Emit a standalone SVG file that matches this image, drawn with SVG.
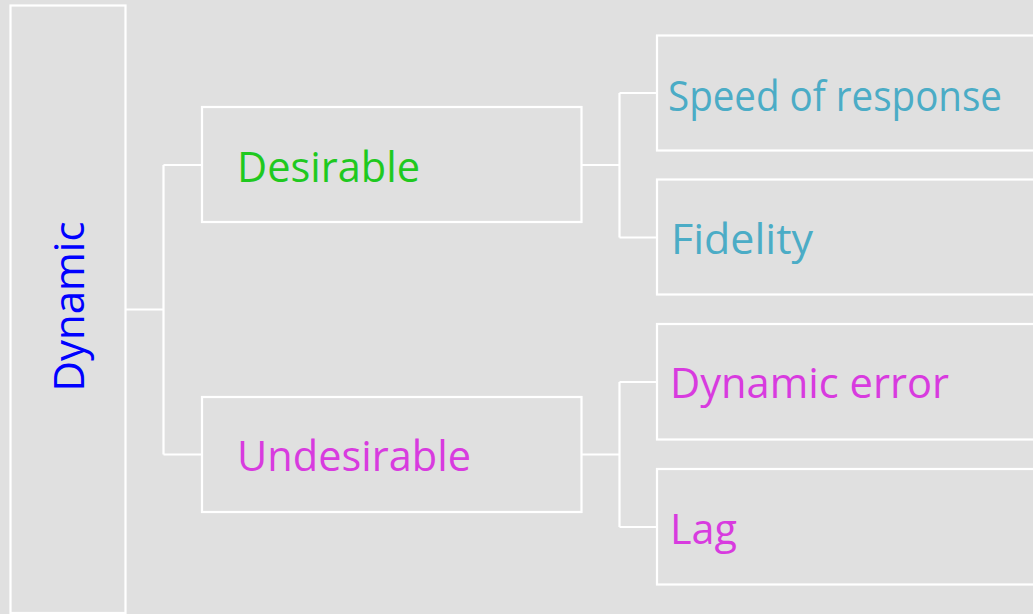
<svg xmlns="http://www.w3.org/2000/svg" width="1033" height="614" viewBox="0 0 1033 614">
  <style>
    .box { fill: #E0E0E0; stroke: #FFFFFF; stroke-width: 2.2; }
    .link { fill: none; stroke: #FFFFFF; stroke-width: 2.2; }
    text { font-family: "Open Sans", "Noto Sans", "Liberation Sans", sans-serif; font-size: 42px; }
    .root { fill: #0000FF; }
    .good { fill: #1FC91F; }
    .goodLeaf { fill: #4BACC6; }
    .bad { fill: #D83BDF; }
  </style>
  <rect width="1033" height="614" fill="#E0E0E0"/>

  <g id="connectors">
    <path class="link" d="M126 309.5 H163.5 M163.5 165 V454.5 M163.5 165 H202 M163.5 454.5 H202"/>
    <path class="link" d="M581.5 165 H619.5 M619.5 93 V237.5 M619.5 93 H657 M619.5 237.5 H657"/>
    <path class="link" d="M581.5 454.5 H619.5 M619.5 382 V527 M619.5 382 H657 M619.5 527 H657"/>
  </g>

  <g id="node-dynamic">
    <rect class="box" x="10.5" y="5.5" width="115" height="607.5"/>
    <text class="root" transform="translate(84,306.5) rotate(-90)" text-anchor="middle" textLength="170" lengthAdjust="spacingAndGlyphs">Dynamic</text>
  </g>

  <g id="node-desirable">
    <rect class="box" x="202" y="107" width="379.5" height="115"/>
    <text class="good" x="237" y="182" textLength="183" lengthAdjust="spacingAndGlyphs">Desirable</text>
  </g>

  <g id="node-undesirable">
    <rect class="box" x="202" y="397" width="379.5" height="115"/>
    <text class="bad" x="237" y="471" textLength="234" lengthAdjust="spacingAndGlyphs">Undesirable</text>
  </g>

  <g id="node-speed">
    <rect class="box" x="657" y="35.5" width="400" height="115"/>
    <text class="goodLeaf" x="668" y="110.5" textLength="334" lengthAdjust="spacingAndGlyphs">Speed of response</text>
  </g>

  <g id="node-fidelity">
    <rect class="box" x="657" y="179.5" width="400" height="115"/>
    <text class="goodLeaf" x="671" y="253.5" textLength="142" lengthAdjust="spacingAndGlyphs">Fidelity</text>
  </g>

  <g id="node-dynamic-error">
    <rect class="box" x="657" y="324" width="400" height="115.5"/>
    <text class="bad" x="670" y="397.5" textLength="279" lengthAdjust="spacingAndGlyphs">Dynamic error</text>
  </g>

  <g id="node-lag">
    <rect class="box" x="657" y="469" width="400" height="115.5"/>
    <text class="bad" x="670" y="543.5" textLength="67" lengthAdjust="spacingAndGlyphs">Lag</text>
  </g>
</svg>
